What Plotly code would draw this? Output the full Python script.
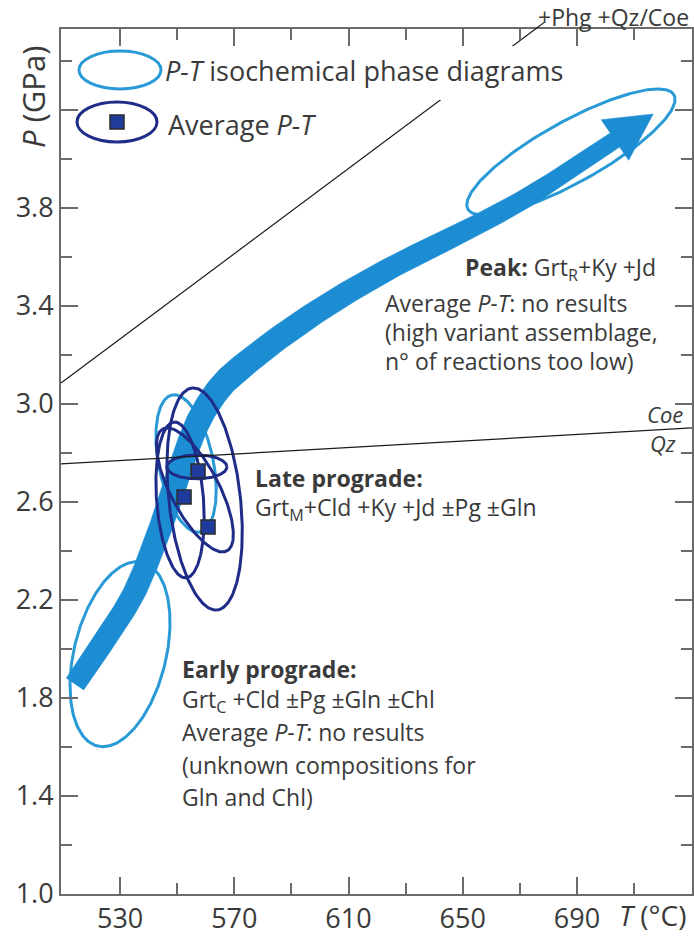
import numpy as np
import plotly.graph_objects as go

# ---------------- data ----------------
T_RANGE = [509.3, 730.3]
P_RANGE = [1.0, 4.53]
X_TICKS = [530, 570, 610, 650, 690]
X_MINOR = [550, 590, 630, 670, 710]
Y_TICKS = [1.0, 1.4, 1.8, 2.2, 2.6, 3.0, 3.4, 3.8, 4.2]
Y_TICKTEXT = ["1.0", "1.4", "1.8", "2.2", "2.6", "3.0", "3.4", "3.8", " "]
Y_MINOR = [1.2, 1.6, 2.0, 2.4, 2.8, 3.2, 3.6, 4.0, 4.4]

# P-T path (arrow centre line) and arrow tip
PATH_T = [514.2, 524.7, 534.5, 541.5, 547.5, 552.7, 558.0, 565.7, 575.5, 589.5, 607.0, 628.0, 651.5, 674.6, 703.3]
PATH_P = [1.857, 2.037, 2.220, 2.412, 2.608, 2.792, 2.943, 3.077, 3.179, 3.302, 3.436, 3.575, 3.710, 3.857, 4.077]
TIP_T, TIP_P = 716.7, 4.183

# P-T isochemical phase diagram ellipses (centre, major half-axis vector, minor/major ratio)
ISO_T = [529.97, 553.1, 687.9]
ISO_P = [1.979, 2.757, 4.028]
ISO_DT = [7.88, -4.9, 36.1]
ISO_DP = [0.375, 0.2796, 0.233]
ISO_RATIO = [0.486, 0.39, 0.26]

# Average P-T ellipses
AVE_T = [559.6, 551.0, 556.2, 556.9]
AVE_P = [2.612, 2.608, 2.649, 2.743]
AVE_DT = [-4.38, -2.1, -11.2, 10.5]
AVE_DP = [0.453, 0.318, 0.249, 0.0]
AVE_RATIO = [0.32, 0.30, 0.35, 0.40]

# Average P-T results
AVG_T = [557.3, 552.4, 560.8]
AVG_P = [2.726, 2.620, 2.498]

# reactions
PHG_T = [509.3, 678.8]
PHG_P = [3.085, 4.559]
QC_T = [509.3, 730.3]
QC_P = [2.755, 2.902]

# ---------------- layout geometry ----------------
W, H = 694, 936
ML, MR, MT, MB = 61, 2, 29, 42
PW, PH = W - ML - MR, H - MT - MB
SX = PW / (T_RANGE[1] - T_RANGE[0])
SY = PH / (P_RANGE[1] - P_RANGE[0])

LIGHT = "#2A9AD6"
ARROW = "#1C8DD2"
DARK = "#1F2C88"
TXT = "#3a3a3a"
AX = "#6b6b6b"
FONT = "Open Sans"


def to_px(T, P):
    return (np.asarray(T, float) - T_RANGE[0]) * SX, (np.asarray(P, float) - P_RANGE[0]) * SY


def to_data(x, y):
    return T_RANGE[0] + np.asarray(x) / SX, P_RANGE[0] + np.asarray(y) / SY


def to_paper(T, P):
    x, y = to_px(T, P)
    return x / PW, y / PH


def ellipse(tc, pc, dt, dp, ratio, n=240):
    ux, uy = dt * SX, dp * SY
    vx, vy = -uy * ratio, ux * ratio
    t = np.linspace(0, 2 * np.pi, n)
    x = np.cos(t) * ux + np.sin(t) * vx
    y = np.cos(t) * uy + np.sin(t) * vy
    return tc + x / SX, pc + y / SY


def catmull(pts, n=14):
    pts = np.asarray(pts)
    P = np.vstack([pts[0] - (pts[1] - pts[0]), pts, pts[-1] + (pts[-1] - pts[-2])])
    out = []
    for i in range(1, len(P) - 2):
        p0, p1, p2, p3 = P[i - 1], P[i], P[i + 1], P[i + 2]
        for s in np.linspace(0, 1, n, endpoint=False):
            out.append(0.5 * ((2 * p1) + (-p0 + p2) * s + (2 * p0 - 5 * p1 + 4 * p2 - p3) * s ** 2
                              + (-p0 + 3 * p1 - 3 * p2 + p3) * s ** 3))
    out.append(P[-2])
    return np.array(out)


fig = go.Figure()

# light ellipses
for tc, pc, dt, dp, r in zip(ISO_T, ISO_P, ISO_DT, ISO_DP, ISO_RATIO):
    ex, ey = ellipse(tc, pc, dt, dp, r)
    fig.add_trace(go.Scatter(x=ex, y=ey, mode="lines", line=dict(color=LIGHT, width=3),
                             hoverinfo="skip", showlegend=False))

# arrow (P-T path)
px, py = to_px(PATH_T, PATH_P)
c = catmull(np.column_stack([px, py]))
tg = np.gradient(c, axis=0)
tg /= np.linalg.norm(tg, axis=1)[:, None]
nrm = np.column_stack([-tg[:, 1], tg[:, 0]])
seg = np.r_[0, np.cumsum(np.linalg.norm(np.diff(c, axis=0), axis=1))]
s = seg / seg[-1]
w = np.interp(s, [0, 0.45, 1], [21, 25, 17])
left = c + nrm * w[:, None] / 2
right = c - nrm * w[:, None] / 2
tx, ty = to_px(TIP_T, TIP_P)
tip = np.array([float(tx), float(ty)])
base = c[-1]
d = (tip - base) / np.linalg.norm(tip - base)
perp = np.array([-d[1], d[0]])
wl = base + perp * 24.5
wr = base - perp * 24.5
poly = np.vstack([left, wl, tip, wr, right[::-1], left[:1]])
ax_, ay_ = to_data(poly[:, 0], poly[:, 1])
fig.add_trace(go.Scatter(x=ax_, y=ay_, mode="lines", fill="toself", fillcolor=ARROW,
                         line=dict(color=ARROW, width=0.5), hoverinfo="skip", showlegend=False))

# dark ellipses
for tc, pc, dt, dp, r in zip(AVE_T, AVE_P, AVE_DT, AVE_DP, AVE_RATIO):
    ex, ey = ellipse(tc, pc, dt, dp, r)
    fig.add_trace(go.Scatter(x=ex, y=ey, mode="lines", line=dict(color=DARK, width=3),
                             hoverinfo="skip", showlegend=False))

# average P-T squares
fig.add_trace(go.Scatter(x=AVG_T, y=AVG_P, mode="markers",
                         marker=dict(symbol="square", size=14, color="#1F3C9C",
                                     line=dict(color="#2b2b2b", width=1.5)),
                         hoverinfo="skip", showlegend=False))

# reaction lines
for lt, lp in ((PHG_T, PHG_P), (QC_T, QC_P)):
    fig.add_trace(go.Scatter(x=lt, y=lp, mode="lines", line=dict(color="#1a1a1a", width=1.2),
                             hoverinfo="skip", showlegend=False))


def pp(xpx, ypx):
    return (xpx - ML) / PW, (H - MB - ypx) / PH


shapes = []
# white box behind the legend (hides the reaction line)
x0, y0 = pp(160, 100)
x1, y1 = pp(580, 46)
shapes.append(dict(type="rect", xref="paper", yref="paper", x0=x0, y0=y0, x1=x1, y1=y1,
                   fillcolor="white", line=dict(width=0), layer="above"))
# part of Phg line above the frame
x0p, y0p = to_paper(PHG_T[0], PHG_P[0])
x1p, y1p = to_paper(PHG_T[1], PHG_P[1])
frac = (1 - y0p) / (y1p - y0p)
shapes.append(dict(type="line", xref="paper", yref="paper",
                   x0=x0p + (x1p - x0p) * frac, y0=1.0, x1=x1p, y1=y1p,
                   line=dict(color="#1a1a1a", width=1.2)))

# legend ellipses and square
for (cx, cy, a, b, col) in ((120, 70, 41, 19, LIGHT), (117, 122, 40, 20, DARK)):
    x0, y0 = pp(cx - a, cy + b)
    x1, y1 = pp(cx + a, cy - b)
    shapes.append(dict(type="circle", xref="paper", yref="paper", x0=x0, y0=y0, x1=x1, y1=y1,
                       line=dict(color=col, width=3), layer="above"))
x0, y0 = pp(110, 129)
x1, y1 = pp(124, 115)
shapes.append(dict(type="rect", xref="paper", yref="paper", x0=x0, y0=y0, x1=x1, y1=y1,
                   fillcolor="#1F3C9C", line=dict(color="#2b2b2b", width=1.5), layer="above"))

ann = []


def add_text(xpx, ypx, text, size, anchor="left", **kw):
    x, y = pp(xpx, ypx)
    ann.append(dict(x=x, y=y, xref="paper", yref="paper", text=text, showarrow=False,
                    xanchor=anchor, yanchor="middle", font=dict(family=FONT, size=size, color=TXT), **kw))


FS = 23
add_text(163, 71, "<i>P-T</i> isochemical phase diagrams", 27)
add_text(166, 124, "Average <i>P-T</i>", 27)
add_text(691, 17, "+Phg +Qz/Coe", 23, anchor="right")
add_text(33, 97, "<i>P</i> (GPa)", 31, anchor="center", textangle=-90)
add_text(688, 915, "<i>T</i> (°C)", 28, anchor="right")
add_text(685, 414, "<i>Coe</i>", 22, anchor="right")
add_text(678, 443, "<i>Qz</i>", 22, anchor="right")

add_text(463, 268, "<b>Peak:</b> Grt<sub>R</sub>+Ky +Jd", FS)
add_text(383, 303, "Average <i>P-T</i>: no results", FS)
add_text(383, 332, "(high variant assemblage,", FS)
add_text(383, 361, "n° of reactions too low)", FS)

add_text(253, 478, "<b>Late prograde:</b>", FS)
add_text(253, 508, "Grt<sub>M</sub>+Cld +Ky +Jd ±Pg ±Gln", FS)

add_text(180, 669, "<b>Early prograde:</b>", FS)
add_text(180, 700, "Grt<sub>C</sub> +Cld ±Pg ±Gln ±Chl", FS)
add_text(180, 732, "Average <i>P-T</i>: no results", FS)
add_text(180, 765, "(unknown compositions for", FS)
add_text(180, 797, "Gln and Chl)", FS)

fig.update_layout(
    width=W, height=H, margin=dict(l=ML, r=MR, t=MT, b=MB),
    paper_bgcolor="white", plot_bgcolor="white",
    shapes=shapes, annotations=ann, showlegend=False,
    xaxis=dict(range=T_RANGE, tickmode="array", tickvals=X_TICKS, ticks="inside", ticklen=17,
               tickwidth=1.5, tickcolor=AX, showline=True, linecolor=AX, linewidth=2,
               mirror="allticks", showgrid=False, zeroline=False, automargin=False,
               tickfont=dict(family=FONT, size=27, color=TXT),
               minor=dict(tickmode="array", tickvals=X_MINOR, ticks="inside", ticklen=11,
                          tickwidth=1.5, tickcolor=AX, showgrid=False)),
    yaxis=dict(range=P_RANGE, tickmode="array", tickvals=Y_TICKS, ticktext=Y_TICKTEXT,
               ticks="inside", ticklen=17, tickwidth=1.5, tickcolor=AX, showline=True,
               linecolor=AX, linewidth=2, mirror="allticks", showgrid=False, zeroline=False,
               automargin=False, tickfont=dict(family=FONT, size=27, color=TXT),
               minor=dict(tickmode="array", tickvals=Y_MINOR, ticks="inside", ticklen=11,
                          tickwidth=1.5, tickcolor=AX, showgrid=False)),
)

fig.write_html("out.html")
